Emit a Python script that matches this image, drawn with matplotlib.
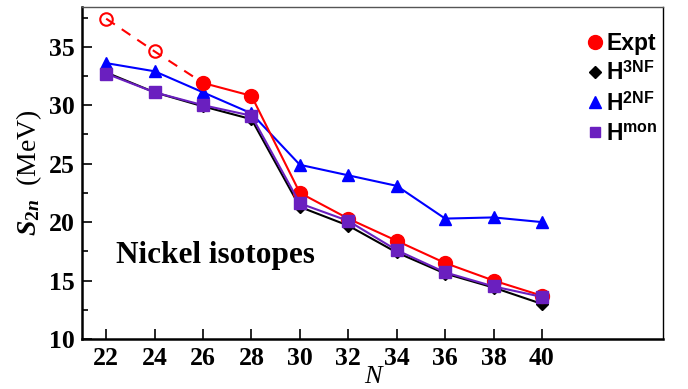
import matplotlib.pyplot as plt
import numpy as np
from matplotlib.ticker import MultipleLocator

# data
N = [22, 24, 26, 28, 30, 32, 34, 36, 38, 40]
expt_extrap_N = [22, 24, 26]
expt_extrap = [37.4, 34.6, 31.9]
expt_N = [26, 28, 30, 32, 34, 36, 38, 40]
expt = [31.9, 30.8, 22.5, 20.3, 18.4, 16.5, 15.0, 13.7]
h3nf = [32.8, 31.1, 29.9, 28.8, 21.3, 19.7, 17.4, 15.6, 14.4, 13.0]
h2nf = [33.6, 32.9, 31.1, 29.3, 24.9, 24.0, 23.1, 20.3, 20.4, 20.0]
hmon = [32.7, 31.1, 30.0, 29.1, 21.6, 20.1, 17.6, 15.7, 14.5, 13.6]

serif = 'Liberation Serif'
sans = 'Liberation Sans'
purple = '#6a1fbf'

plt.rcParams['font.family'] = serif
plt.rcParams['font.weight'] = 'bold'
plt.rcParams['mathtext.fontset'] = 'custom'
plt.rcParams['mathtext.it'] = 'Liberation Serif:italic:bold'
plt.rcParams['mathtext.rm'] = 'Liberation Serif:bold'
plt.rcParams['mathtext.bf'] = 'Liberation Serif:bold'
plt.rcParams['mathtext.sf'] = 'Liberation Sans:bold'

fig = plt.figure(figsize=(6.88, 3.89), dpi=100)
ax = fig.add_axes([82/688, 1 - 339/389, (663-82)/688, (339-7)/389])

lw = 1.5
ax.plot(expt_extrap_N[:2], expt_extrap[:2], 'o', color='red', mfc='none', ms=9, mew=1.5, zorder=4)
ax.plot(expt_extrap_N, expt_extrap, '--', color='red', lw=lw, dashes=(5, 4), zorder=3)
ax.plot(N, h3nf, '-D', color='black', lw=lw, ms=6, zorder=3)
ax.plot(N, h2nf, '-^', color='blue', lw=lw, ms=9, zorder=3)
ax.plot(expt_N, expt, '-o', color='red', lw=lw, ms=10, zorder=4)
ax.plot(N, hmon, '-s', color=purple, lw=lw, ms=8, zorder=5)

ax.set_xlim(21, 45)
ax.set_ylim(10, 38.4)
ax.set_xticks(N)
ax.yaxis.set_major_locator(MultipleLocator(5))
ax.yaxis.set_minor_locator(MultipleLocator(2.5))
ax.tick_params(direction='in', length=7.5, width=1.2, top=False, right=False, labelsize=18.5)
ax.tick_params(axis='y', pad=5)
ax.tick_params(axis='x', pad=6)
ax.tick_params(which='minor', direction='in', length=4.5, width=1.2)
ax.spines['left'].set_linewidth(1.8)
ax.spines['bottom'].set_linewidth(1.8)
ax.spines['top'].set_linewidth(1.0)
ax.spines['right'].set_linewidth(1.0)
ax.spines['top'].set_color('#555555')

ax.set_xlabel('N', fontstyle='italic', fontsize=19, labelpad=-3)
ax.set_ylabel('$\\mathit{S}_{2\\mathit{n}}$  (MeV)', fontsize=20, labelpad=4)

ax.text(116/688, 1 - 263/389, 'Nickel isotopes', transform=fig.transFigure, fontsize=22.5)

# legend
leg_items = [('o', 'red', 'Expt', 10),
             ('D', 'black', 'H$^{\\mathsf{3NF}}$', 6.5),
             ('^', 'blue', 'H$^{\\mathsf{2NF}}$', 9),
             ('s', purple, 'H$^{\\mathsf{mon}}$', 7.5)]
handles = [plt.Line2D([], [], ls='none', marker=m, color=c, ms=s) for m, c, _, s in leg_items]
labels = [t for _, _, t, _ in leg_items]
leg = fig.legend(handles, labels, loc='upper left', bbox_to_anchor=(588/688, 1 - 32/389),
                 frameon=False, borderpad=0, borderaxespad=0,
                 handlelength=0.6, handletextpad=0.2, labelspacing=0.28,
                 prop={'family': sans, 'weight': 'bold', 'size': 16.5})

fig.savefig('out.png', dpi=100)
